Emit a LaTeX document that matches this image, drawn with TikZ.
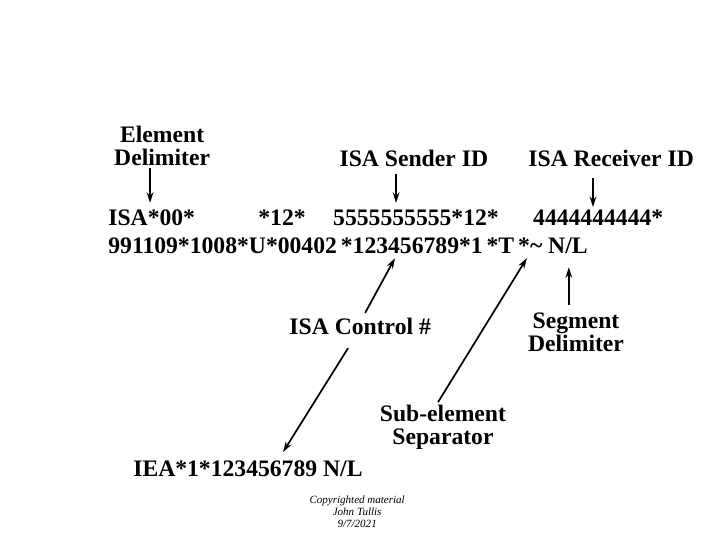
\documentclass[tikz,border=0pt]{standalone}
\usepackage{fontspec}
\setmainfont{Liberation Serif}
\usepackage{tikz}
\usetikzlibrary{arrows.meta}
\tikzset{
  lbl/.style={font=\fontsize{17.8}{17.5}\selectfont\bfseries,align=center,inner sep=0pt},
  seg/.style={font=\fontsize{17.8}{17.5}\selectfont\bfseries,anchor=base west,inner sep=0pt},
  ptr/.style={line width=1.3pt,-{Stealth[length=8pt,width=5pt]}}
}

\begin{document}
\begin{tikzpicture}[x=1cm,y=1cm]
\path[use as bounding box] (0,0) rectangle (19.05,14.29);
% labels above the header
\node[lbl] (elem) at (4.29,10.42) {Element\\Delimiter};
\node[lbl] (sender) at (10.95,10.11) {ISA Sender ID};
\node[lbl] (receiver) at (16.17,10.11) {ISA Receiver ID};
% ISA segment
\node[seg] (isa) at (2.86,8.33) {ISA*00*};
\node[seg] (qual) at (6.83,8.33) {*12*};
\node[seg] (sid) at (8.81,8.33) {5555555555*12*};
\node[seg] (rid) at (14.10,8.33) {4444444444*};
\node[seg] (rest) at (2.86,7.57) {991109*1008*U*00402\,*123456789*1\,*T\,*\textasciitilde{} N/L};
% labels below the header
\node[lbl] (control) at (9.53,5.66) {ISA Control \#};
\node[lbl] (segdel) at (15.24,5.50) {Segment\\Delimiter};
\node[lbl] (subel) at (11.72,2.99) {Sub-element\\Separator};
\node[seg] (iea) at (3.52,1.69) {IEA*1*123456789 N/L};
\node[align=center,inner sep=0pt,font=\fontsize{8.3}{9}\selectfont\itshape] (copy) at (9.45,0.74) {Copyrighted material\\John Tullis\\9/7/2021};
% pointer ends
\coordinate (elemA) at (3.97,9.84);   \coordinate (elemB) at (3.97,8.92);
\coordinate (sendA) at (10.48,9.68);  \coordinate (sendB) at (10.48,8.92);
\coordinate (recvA) at (15.69,9.58);  \coordinate (recvB) at (15.69,8.81);
\coordinate (ctrlA) at (9.66,6.01);   \coordinate (ctrlB) at (10.45,7.46);
\coordinate (subA) at (11.59,3.65);   \coordinate (subB) at (13.94,7.46);
\coordinate (segA) at (15.05,6.22);   \coordinate (segB) at (15.05,7.22);
\coordinate (ieaA) at (9.21,5.08);    \coordinate (ieaB) at (7.49,2.33);
\draw[ptr] (elemA) -- (elemB);
\draw[ptr] (sendA) -- (sendB);
\draw[ptr] (recvA) -- (recvB);
\draw[ptr] (ctrlA) -- (ctrlB);
\draw[ptr] (subA) -- (subB);
\draw[ptr] (segA) -- (segB);
\draw[ptr] (ieaA) -- (ieaB);
\end{tikzpicture}
\end{document}
